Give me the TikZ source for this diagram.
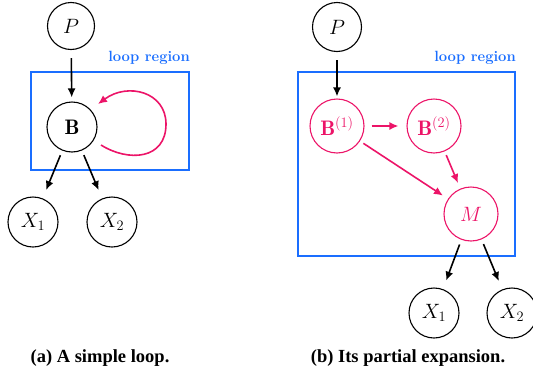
\documentclass[tikz,border=0pt]{standalone}
\usepackage{fontspec}
\newfontfamily\capfont{Liberation Serif}
\usetikzlibrary{arrows.meta}
\definecolor{loopblue}{RGB}{26,110,255}
\definecolor{hotpink}{RGB}{236,20,104}
\tikzset{
  var/.style={circle,draw,line width=1.1pt,inner sep=0pt,font=\fontsize{21}{21}\selectfont},
  blk/.style={line width=1.6pt,-{Latex[length=9pt,width=8pt]}},
  pnk/.style={line width=1.6pt,draw=hotpink,-{Latex[length=9pt,width=8pt]},color=hotpink},
  region/.style={draw=loopblue,line width=2.4pt},
  reglabel/.style={text=loopblue,font=\fontsize{14.8}{15}\selectfont\bfseries,anchor=east,inner sep=0pt},
  caption/.style={font=\fontsize{18.5}{19}\selectfont\capfont\bfseries,inner sep=0pt}
}
\begin{document}
\begin{tikzpicture}[x=1pt,y=-1pt]
\useasboundingbox (0,0) rectangle (533,378);
% ---- (a)
\node[var,minimum size=47pt] (Pa) at (71,26) {$P$};
\node[var,minimum size=50pt] (Ba) at (72,127) {$\mathbf{B}$};
\node[var,minimum size=50pt] (X1a) at (33,222) {$X_1$};
\node[var,minimum size=50pt] (X2a) at (112,222) {$X_2$};
\draw[region] (31,72) rectangle (189,170);
\node[reglabel] (La) at (190,58) {loop region};
\draw[blk,shorten <=8pt,shorten >=4pt] (Pa) -- (Ba);
\draw[blk,shorten <=5pt,shorten >=9pt] (Ba) -- (X1a);
\draw[blk,shorten <=5pt,shorten >=9pt] (Ba) -- (X2a);
\coordinate (ls) at (101,145);
\coordinate (le) at (98,104);
\draw[pnk] (ls) .. controls (128,162) and (166,160) .. (166,124)
  .. controls (166,92) and (128,82) .. (le);
% ---- (b)
\node[var,minimum size=49pt] (Pb) at (337,27) {$P$};
\node[var,minimum size=54pt,draw=hotpink,text=hotpink] (B1) at (337,126) {$\mathbf{B}^{(1)}$};
\node[var,minimum size=54pt,draw=hotpink,text=hotpink] (B2) at (434,126) {$\mathbf{B}^{(2)}$};
\node[var,minimum size=54pt,draw=hotpink,text=hotpink] (M) at (471,214) {$M$};
\node[var,minimum size=50pt] (X1b) at (434,313) {$X_1$};
\node[var,minimum size=50pt] (X2b) at (512,313) {$X_2$};
\draw[region] (298,72) rectangle (515,256);
\node[reglabel] (Lb) at (516,58) {loop region};
\draw[blk,shorten <=8pt,shorten >=2pt] (Pb) -- (B1);
\draw[pnk,shorten <=7pt,shorten >=8pt] (B1) -- (B2);
\draw[pnk,shorten <=4pt,shorten >=6pt] (B2) -- (M);
\draw[pnk,shorten <=4pt,shorten >=6pt] (B1) -- (M);
\draw[blk,shorten <=5pt,shorten >=9pt] (M) -- (X1b);
\draw[blk,shorten <=5pt,shorten >=9pt] (M) -- (X2b);
% captions
\node[caption] (ca) at (100,358) {(a) A simple loop.};
\node[caption] (cb) at (408,358) {(b) Its partial expansion.};
\end{tikzpicture}
\end{document}
